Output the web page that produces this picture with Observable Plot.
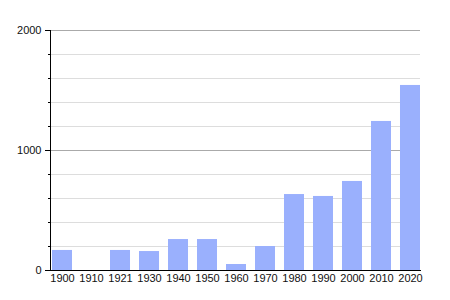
<!DOCTYPE html>
<html>
<head>
<meta charset="utf-8">
<script src="https://cdn.jsdelivr.net/npm/d3@7"></script>
<script src="https://cdn.jsdelivr.net/npm/@observablehq/plot@0.6"></script>
<style>
  html, body { margin: 0; padding: 0; background: #fff; }
  svg { display: block; }
</style>
</head>
<body>
<div id="chart"></div>
<script>
const years = ["1900", "1910", "1921", "1930", "1940", "1950", "1960", "1970", "1980", "1990", "2000", "2010", "2020"];
const population = [167, null, 167, 158, 258, 258, 50, 200, 633, 617, 742, 1242, 1542];
const majorTicks = [0, 1000, 2000];
const minorTicks = [200, 400, 600, 800, 1200, 1400, 1600, 1800];

const data = years.map((y, i) => ({year: y, value: population[i]})).filter(d => d.value != null);

const chart = Plot.plot({
  width: 450,
  height: 300,
  marginTop: 30,
  marginBottom: 30,
  marginLeft: 50,
  marginRight: 30,
  style: {fontFamily: "'Liberation Sans', Arial, sans-serif", fontSize: "11px", color: "#000", background: "#fff"},
  x: {domain: years, paddingInner: 0.31, paddingOuter: 0, round: false, insetLeft: 2, label: null},
  y: {domain: [0, 2000], label: null},
  marks: [
    Plot.ruleY(minorTicks, {stroke: "#dddddd", strokeWidth: 1}),
    Plot.ruleY(majorTicks.filter(d => d > 0), {stroke: "#aaaaaa", strokeWidth: 1}),
    Plot.barY(data, {x: "year", y: "value", fill: "#9ab0fd"}),
    Plot.axisY(minorTicks, {tickSize: 2, tickFormat: () => "", stroke: "#000"}),
    Plot.axisY(majorTicks, {tickSize: 5, tickPadding: 4, tickFormat: d => String(d), fontSize: 11, fill: "#111"}),
    Plot.axisX({tickSize: 0, tickPadding: 4, fontSize: 11, fill: "#111"}),
    Plot.frame({anchor: "left", stroke: "#000"}),
    Plot.frame({anchor: "bottom", stroke: "#000"})
  ]
});
document.getElementById("chart").appendChild(chart);
</script>
</body>
</html>
